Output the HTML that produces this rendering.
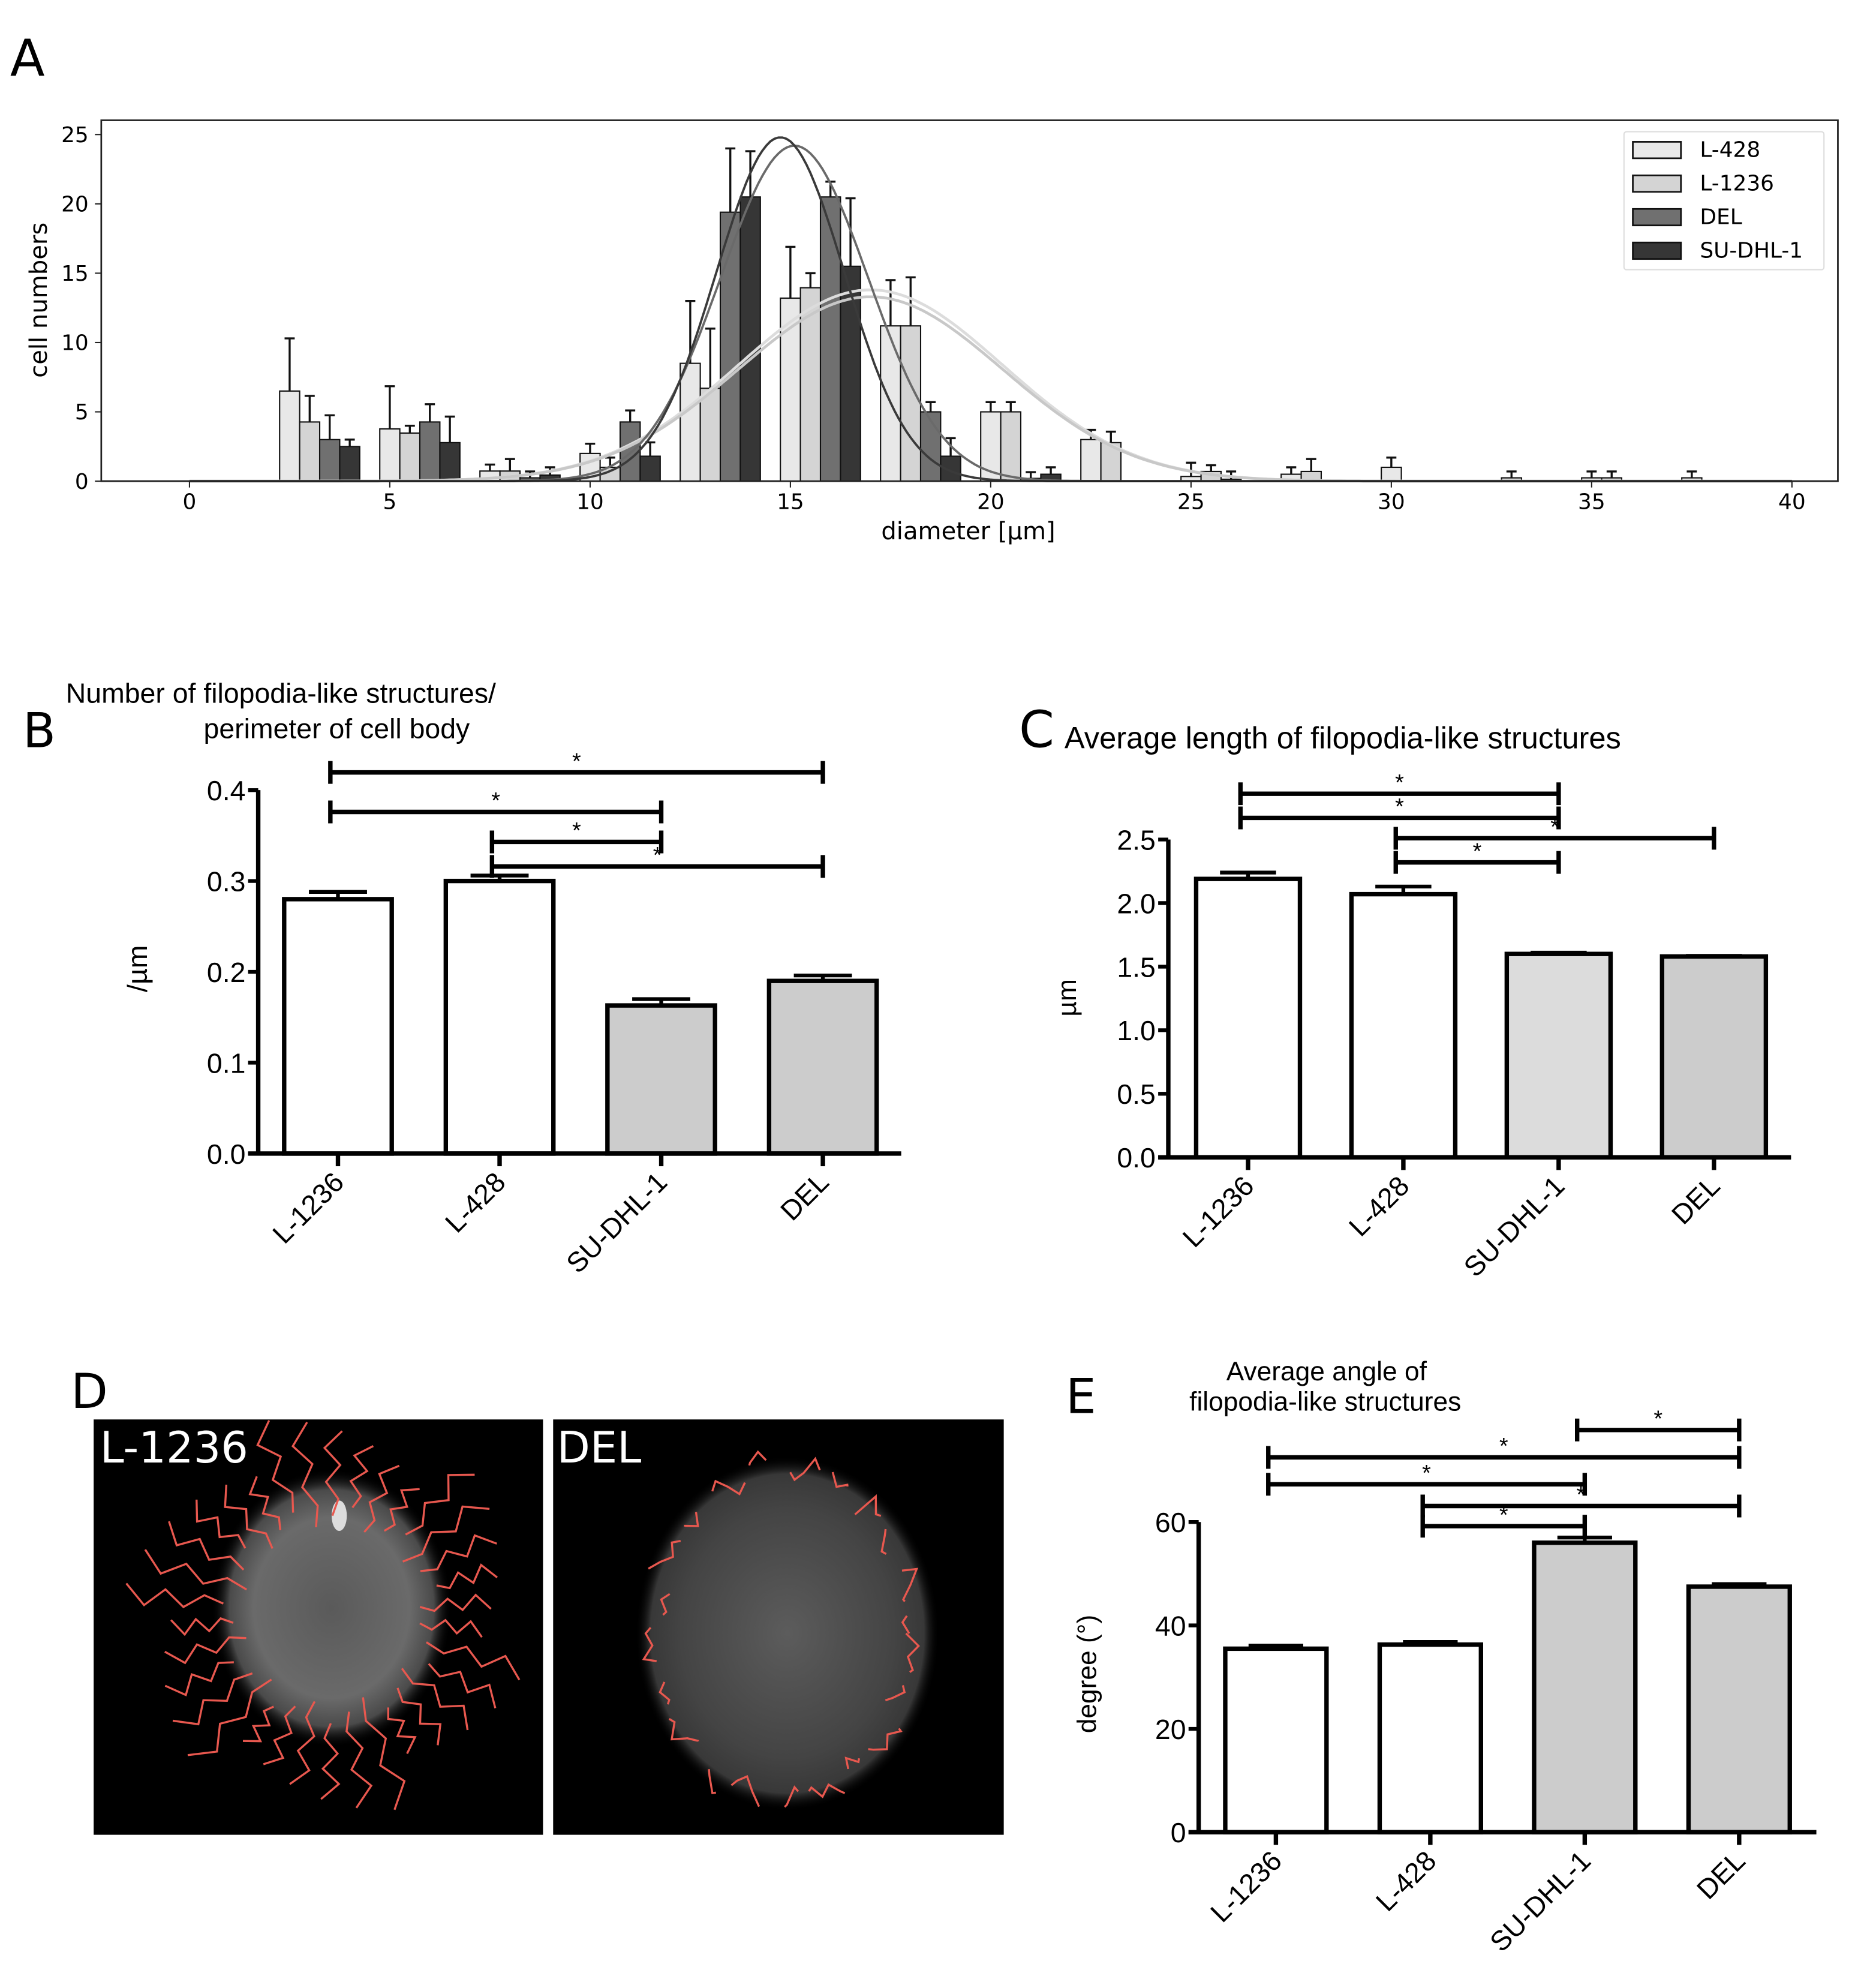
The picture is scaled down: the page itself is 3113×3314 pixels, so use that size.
<!DOCTYPE html>
<html><head><meta charset="utf-8">
<style>
html,body{margin:0;padding:0;background:#fff;}
svg{display:block;}
.dv{font-family:"DejaVu Sans","Liberation Sans",sans-serif;}
.ls{font-family:"Liberation Sans",Arial,sans-serif;}
</style></head>
<body>
<svg id="fig" xmlns="http://www.w3.org/2000/svg" width="3113" height="3314" viewBox="0 0 1475 1570" preserveAspectRatio="none">
<defs>
<radialGradient id="cell1" cx="50%" cy="50%" r="50%">
<stop offset="0%" stop-color="#5a5a5a"/><stop offset="65%" stop-color="#6a6a6a"/><stop offset="85%" stop-color="#4a4a4a"/><stop offset="100%" stop-color="#000" stop-opacity="0"/>
</radialGradient>
<radialGradient id="cell2" cx="50%" cy="50%" r="50%">
<stop offset="0%" stop-color="#5c5c5c"/><stop offset="70%" stop-color="#444"/><stop offset="90%" stop-color="#383838"/><stop offset="100%" stop-color="#000" stop-opacity="0"/>
</radialGradient>
</defs>
<g id="panelA"></g>
<g id="panelB"></g>
<g id="panelC"></g>
<g id="panelE"></g>
<g id="panelD">
  <text x="56" y="1112" class="dv" font-size="38">D</text>
  <rect x="74" y="1121" width="355" height="328" fill="#000"/>
  <rect x="437" y="1121" width="356" height="328" fill="#000"/>
  <ellipse cx="262" cy="1270" rx="95" ry="110" fill="url(#cell1)"/>
  <ellipse cx="268" cy="1197" rx="6" ry="12" fill="#ddd"/>
  <ellipse cx="622" cy="1290" rx="120" ry="140" fill="url(#cell2)"/>
  <g id="fil1" stroke="#e8584f" stroke-width="1.6" fill="none"></g>
  <g id="fil2" stroke="#e8584f" stroke-width="1.6" fill="none"></g>
  <text x="79" y="1155" class="dv" font-size="34" fill="#fff">L-1236</text>
  <text x="440" y="1155" class="dv" font-size="34" fill="#fff">DEL</text>
</g>
</svg>
<script>
// ---------- Panel A data ----------
const binCenters = [2.5,5,7.5,10,12.5,15,17.5,20,22.5,25,27.5,30,32.5,35,37.5];
const seriesNames = ["L-428","L-1236","DEL","SU-DHL-1"];
const valsL428  = [6.5,3.77,0.73,2.0,8.5,13.2,11.2,5.0,3.0,0.34,0.5,1.0,0,0.24,0.24];
const errL428   = [3.8,3.08,0.47,0.7,4.5,3.7,3.3,0.7,0.7,0.99,0.5,0.7,0,0.46,0.46];
const valsL1236 = [4.27,3.47,0.73,1.0,6.7,13.95,11.2,5.0,2.78,0.7,0.7,0,0.24,0.24,0];
const errL1236  = [1.88,0.53,0.87,0.7,4.3,1.05,3.5,0.7,0.79,0.45,0.9,0,0.46,0.46,0];
const valsDEL   = [3.0,4.27,0.24,4.27,19.4,20.5,5.0,0.2,0,0.14,0,0,0,0,0];
const errDEL    = [1.75,1.28,0.46,0.83,4.6,1.1,0.7,0.45,0,0.56,0,0,0,0,0];
const valsSU    = [2.5,2.78,0.44,1.8,20.5,15.5,1.8,0.5,0,0,0,0,0,0,0];
const errSU     = [0.5,1.88,0.56,1.0,3.3,4.9,1.3,0.5,0,0,0,0,0,0,0];
const fitAmp   = [13.8,13.3,24.2,24.8];
const fitMu    = [17.0,17.0,15.1,14.75];
const fitSigma = [3.3,3.3,1.84,1.6];
const xTicksA = [0,5,10,15,20,25,30,35,40];
const yTicksA = [0,5,10,15,20,25];

// ---------- Panel B/C/E data ----------
const barCats = ["L-1236","L-428","SU-DHL-1","DEL"];
const valsB = [0.28,0.30,0.163,0.19];
const errB  = [0.008,0.006,0.007,0.006];
const yTicksB = [0.0,0.1,0.2,0.3,0.4];
const sigB = [[0,3,0.4195],[0,2,0.376],[1,2,0.343],[1,3,0.316]];
const valsC = [2.19,2.07,1.6,1.58];
const errC  = [0.05,0.06,0.01,0.005];
const yTicksC = [0.0,0.5,1.0,1.5,2.0,2.5];
const sigC = [[0,2,2.86],[0,2,2.67],[1,3,2.51],[1,2,2.32]];
const valsE = [35.5,36.3,56.0,47.5];
const errE  = [0.6,0.5,1.0,0.5];
const yTicksE = [0,20,40,60];
const sigE = [[2,3,77.8],[0,3,72.5],[0,2,67.3],[1,3,63.1],[1,2,59.2]];

const NS = "http://www.w3.org/2000/svg";
function mk(parent, tag, attrs, text){
  const e = document.createElementNS(NS, tag);
  for (const k in attrs) e.setAttribute(k, attrs[k]);
  if (text !== undefined) e.textContent = text;
  parent.appendChild(e);
  return e;
}

// ---------- Panel A ----------
(function(){
  const g = document.getElementById('panelA');
  const X0 = 149.7, XU = 31.65, Y0 = 380, YU = 10.95;
  const sx = v => X0 + v*XU, sy = v => Y0 - v*YU;
  let t = mk(g,'text',{x:8,y:60,'font-size':40,class:'dv'},'A');
   
  const fr = mk(g,'rect',{x:80,y:95,width:1372,height:285,fill:'none',stroke:'#222','stroke-width':1.3});
   
  const colors = ['#e8e8e8','#d4d4d4','#707070','#363636'];
  const vals = [valsL428,valsL1236,valsDEL,valsSU];
  const errs = [errL428,errL1236,errDEL,errSU];
  const bw = 0.5;
  for (let s=0;s<4;s++){
    for (let i=0;i<binCenters.length;i++){
      const v = vals[s][i]; if (v<=0) continue;
      const c = binCenters[i] + s*bw;
      const r = mk(g,'rect',{x:sx(c-bw/2),y:sy(v),width:bw*XU,height:v*YU,fill:colors[s],stroke:'#111','stroke-width':1});
      
      
      const e = errs[s][i];
      if (e>0){
        const top = sy(v+e);
        const eb = mk(g,'path',{d:`M${sx(c)} ${sy(v)}V${top}M${sx(c)-4} ${top}H${sx(c)+4}`,stroke:'#111','stroke-width':1.6,fill:'none'});
         
      }
    }
  }
  const fitCols = ['#dcdcdc','#c8c8c8','#6a6a6a','#3a3a3a'];
  for (let s=0;s<4;s++){
    let d='';
    for (let k=0;k<=400;k++){
      const xv = 0 + k*0.1;
      const yv = fitAmp[s]*Math.exp(-Math.pow(xv-fitMu[s],2)/(2*fitSigma[s]*fitSigma[s]));
      d += (k?'L':'M')+sx(xv).toFixed(1)+' '+sy(yv).toFixed(1);
    }
    const p = mk(g,'path',{d:d,fill:'none',stroke:fitCols[s],'stroke-width':s<2?2.2:1.8});
     
  }
  mk(g,'line',{x1:80,y1:380,x2:1452,y2:380,stroke:'#222','stroke-width':1.3});
  xTicksA.forEach(v=>{
    mk(g,'line',{x1:sx(v),y1:380,x2:sx(v),y2:385,stroke:'#222','stroke-width':1});
    const tl = mk(g,'text',{x:sx(v),y:402,'font-size':17,'text-anchor':'middle',class:'dv'},String(v));
     
  });
  yTicksA.forEach(v=>{
    mk(g,'line',{x1:75,y1:sy(v),x2:80,y2:sy(v),stroke:'#222','stroke-width':1});
    const tl = mk(g,'text',{x:70,y:sy(v)+6,'font-size':17,'text-anchor':'end',class:'dv'},String(v));
     
  });
  t = mk(g,'text',{x:765,y:426,'font-size':19,'text-anchor':'middle',class:'dv'},'diameter [µm]');
   
  t = mk(g,'text',{x:37,y:237,'font-size':19,'text-anchor':'middle',class:'dv',transform:'rotate(-90 37 237)'},'cell numbers');
   
  const lg = mk(g,'g',{});
   
  mk(lg,'rect',{x:1283,y:104,width:158,height:109,fill:'#fff',stroke:'#ddd','stroke-width':1,rx:2});
  seriesNames.forEach((n,i)=>{
    const y = 118 + i*26.5;
    const le = mk(lg,'g',{});
     
    mk(le,'rect',{x:1290,y:y-6,width:38,height:13,fill:colors[i],stroke:'#111','stroke-width':1.3});
    mk(le,'text',{x:1343,y:y+6,'font-size':17,class:'dv'},n);
  });
})();

// ---------- Bar charts B, C, E ----------
function barChart(id, cfg){
  const g = document.getElementById(id);
  const sy = v => cfg.y0 - (v-cfg.ymin)/(cfg.ymax-cfg.ymin)*(cfg.y0-cfg.ytop);
  const bx = i => cfg.xc0 + i*cfg.dx;
  const fills = ['#fff','#fff',cfg.grey1,cfg.grey2];
  cfg.vals.forEach((v,i)=>{
    const r = mk(g,'rect',{x:bx(i)-cfg.bw/2,y:sy(v),width:cfg.bw,height:cfg.y0-sy(v),fill:fills[i],stroke:'#000','stroke-width':3.5});
     
    const te = sy(v+cfg.errs[i]);
    const eb = mk(g,'path',{d:`M${bx(i)} ${sy(v)}V${te}M${bx(i)-cfg.bw*0.27} ${te}H${bx(i)+cfg.bw*0.27}`,stroke:'#000','stroke-width':3,fill:'none'});
     
  });
  mk(g,'line',{x1:cfg.ax,y1:cfg.ytop,x2:cfg.ax,y2:cfg.y0+1.5,stroke:'#000','stroke-width':3.5});
  mk(g,'line',{x1:cfg.ax-8,y1:cfg.y0,x2:cfg.xend,y2:cfg.y0,stroke:'#000','stroke-width':3.5});
  cfg.ticks.forEach(v=>{
    mk(g,'line',{x1:cfg.ax-8,y1:sy(v),x2:cfg.ax,y2:sy(v),stroke:'#000','stroke-width':3});
    const tl = mk(g,'text',{x:cfg.ax-10,y:sy(v)+8,'font-size':22,'text-anchor':'end',class:'ls'},cfg.fmt(v));
     
  });
  barCats.forEach((c,i)=>{
    mk(g,'line',{x1:bx(i),y1:cfg.y0,x2:bx(i),y2:cfg.y0+10,stroke:'#000','stroke-width':3.5});
    const tx = bx(i)+6, ty = cfg.y0+24;
    const tl = mk(g,'text',{x:tx,y:ty,'font-size':22,'text-anchor':'end',class:'ls',transform:`rotate(-45 ${tx} ${ty})`},c);
     
  });
  cfg.sig.forEach(s=>{
    const y = sy(s[2]), x1 = bx(s[0])-6, x2 = bx(s[1]);
    const sg = mk(g,'path',{d:`M${x1} ${y}H${x2}M${x1} ${y-9}V${y+9}M${x2} ${y-9}V${y+9}`,stroke:'#000','stroke-width':3.5,fill:'none'});
     
    const st = mk(g,'text',{x:(x1+x2)/2,y:y-3,'font-size':18,'text-anchor':'middle',class:'ls'},'*');
     
  });
}
barChart('panelB',{vals:valsB,errs:errB,ticks:yTicksB,sig:sigB,ymin:0,ymax:0.4,y0:911,ytop:624,ax:204,xend:712,xc0:267,dx:127.7,bw:85,grey1:'#cccccc',grey2:'#cccccc',fmt:v=>v.toFixed(1)});
barChart('panelC',{vals:valsC,errs:errC,ticks:yTicksC,sig:sigC,ymin:0,ymax:2.5,y0:914,ytop:663,ax:923,xend:1415,xc0:986,dx:122.7,bw:82,grey1:'#dcdcdc',grey2:'#cccccc',fmt:v=>v.toFixed(1)});
barChart('panelE',{vals:valsE,errs:errE,ticks:yTicksE,sig:sigE,ymin:0,ymax:60,y0:1447,ytop:1202,ax:947,xend:1435,xc0:1008,dx:122,bw:80,grey1:'#cccccc',grey2:'#cccccc',fmt:v=>String(v)});

(function(){
  const B = document.getElementById('panelB');
  let t = mk(B,'text',{x:18,y:590,'font-size':38,class:'dv'},'B');
   
  t = mk(B,'text',{x:52,y:555,'font-size':22,class:'ls'},'Number of filopodia-like structures/');
   
  t = mk(B,'text',{x:266,y:583,'font-size':22,'text-anchor':'middle',class:'ls'},'perimeter of cell body');
   
  t = mk(B,'text',{x:116,y:765,'font-size':22,'text-anchor':'middle',class:'ls',transform:'rotate(-90 116 765)'},'/µm');
   
  const C = document.getElementById('panelC');
  t = mk(C,'text',{x:805,y:590,'font-size':40,class:'dv'},'C');
   
  t = mk(C,'text',{x:841,y:591,'font-size':24,class:'ls'},'Average length of filopodia-like structures');
   
  t = mk(C,'text',{x:850,y:788,'font-size':21,'text-anchor':'middle',class:'ls',transform:'rotate(-90 850 788)'},'µm');
   
  const E = document.getElementById('panelE');
  t = mk(E,'text',{x:842,y:1116,'font-size':38,class:'dv'},'E');
   
  t = mk(E,'text',{x:1048,y:1090,'font-size':21,'text-anchor':'middle',class:'ls'},'Average angle of');
   
  t = mk(E,'text',{x:1047,y:1114,'font-size':21,'text-anchor':'middle',class:'ls'},'filopodia-like structures');
   
  t = mk(E,'text',{x:866,y:1322,'font-size':21,'text-anchor':'middle',class:'ls',transform:'rotate(-90 866 1322)'},'degree (°)');
   
})();

// ---------- Panel D decorative traces ----------
(function(){
  const f1 = document.getElementById('fil1');
  const cx=262, cy=1275;
  for (let k=0;k<34;k++){
    const a = k/34*Math.PI*2 + 0.1;
    const r0 = 70 + (k%3)*8, r1 = 120 + (k*37%45);
    let d = `M${cx+r0*Math.cos(a)} ${cy+r0*Math.sin(a)}`;
    const steps=5;
    for (let s=1;s<=steps;s++){
      const r = r0+(r1-r0)*s/steps, aa = a + ((s%2)?0.05:-0.05);
      d += `L${(cx+r*Math.cos(aa)).toFixed(1)} ${(cy+r*Math.sin(aa)).toFixed(1)}`;
    }
    mk(f1,'path',{d:d});
  }
  const f2 = document.getElementById('fil2');
  const c2x=618, c2y=1290;
  let d='';
  for (let k=0;k<=90;k++){
    const a = k/90*Math.PI*2;
    const r = 115 + ((k*13)%7)*3 - ((k*7)%5)*3;
    const x = c2x + r*0.85*Math.cos(a), y = c2y + r*1.12*Math.sin(a);
    d += (k?'L':'M')+x.toFixed(1)+' '+y.toFixed(1);
  }
  mk(f2,'path',{d:d,'stroke-dasharray':'40 14 22 30'});
})();
</script>
</body></html>
